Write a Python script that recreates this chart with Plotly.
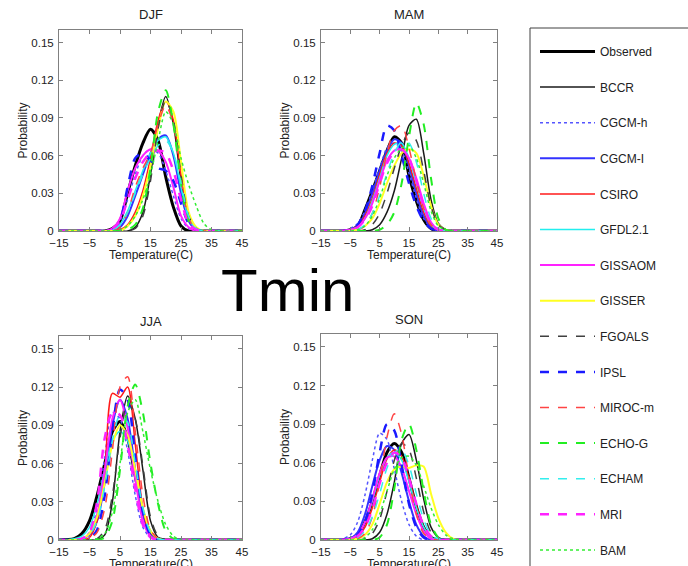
import plotly.graph_objects as go
from plotly.subplots import make_subplots

# temperature grid (C) the curves were read on
TEMP = [-15, -10, -7.5, -5, -2.5, 0, 2.5, 5, 7.5, 10, 12.5, 15, 17.5, 20, 22.5, 25, 27.5, 30, 32.5, 35, 45]

MODELS = ["Observed", "BCCR", "CGCM-h", "CGCM-I", "CSIRO", "GFDL2.1", "GISSAOM", "GISSER",
          "FGOALS", "IPSL", "MIROC-m", "ECHO-G", "ECHAM", "MRI", "BAM"]

SEASONS = ["DJF", "MAM", "JJA", "SON"]

# probability x 1000, one row per model (same order as MODELS)
DJF = [
    [0, 0, 0, 0, 0, 0, 2, 8, 30, 52, 70, 81, 72, 43, 19, 4, 0, 0, 0, 0, 0],
    [0, 0, 0, 0, 0, 0, 0, 0, 0, 3, 15, 45, 85, 107, 85, 40, 10, 1, 0, 0, 0],
    [0, 0, 0, 0, 0, 0, 2, 8, 25, 45, 60, 65, 62, 48, 28, 10, 2, 0, 0, 0, 0],
    [0, 0, 0, 0, 0, 0, 0, 3, 12, 28, 45, 62, 73, 76, 60, 30, 8, 1, 0, 0, 0],
    [0, 0, 0, 0, 0, 0, 0, 1, 5, 15, 32, 58, 88, 103, 88, 45, 12, 2, 0, 0, 0],
    [0, 0, 0, 0, 0, 0, 1, 5, 16, 32, 48, 62, 72, 75, 62, 35, 10, 2, 0, 0, 0],
    [0, 0, 0, 0, 0, 0, 2, 10, 32, 50, 60, 65, 64, 55, 35, 12, 3, 0, 0, 0, 0],
    [0, 0, 0, 0, 0, 0, 0, 0, 4, 12, 28, 52, 82, 103, 95, 55, 15, 3, 0, 0, 0],
    [0, 0, 0, 0, 0, 0, 0, 0, 0, 2, 12, 40, 82, 104, 88, 45, 12, 2, 0, 0, 0],
    [0, 0, 0, 0, 0, 0, 1, 8, 35, 58, 62, 56, 50, 48, 40, 22, 6, 1, 0, 0, 0],
    [0, 0, 0, 0, 0, 0, 0, 3, 15, 35, 50, 62, 85, 100, 85, 42, 10, 1, 0, 0, 0],
    [0, 0, 0, 0, 0, 0, 0, 0, 1, 5, 18, 50, 95, 112, 85, 38, 8, 1, 0, 0, 0],
    [0, 0, 0, 0, 0, 0, 1, 5, 15, 30, 45, 58, 68, 72, 62, 38, 12, 2, 0, 0, 0],
    [0, 0, 0, 0, 0, 0, 2, 8, 25, 42, 55, 62, 64, 62, 48, 25, 6, 1, 0, 0, 0],
    [0, 0, 0, 0, 0, 0, 0, 1, 4, 12, 25, 45, 72, 95, 85, 58, 37, 20, 6, 1, 0],
]

MAM = [
    [0, 0, 0, 1, 4, 17, 32, 48, 64, 75, 70, 44, 24, 9, 2, 0, 0, 0, 0, 0, 0],
    [0, 0, 0, 0, 0, 0, 1, 5, 15, 32, 58, 84, 89, 62, 25, 6, 1, 0, 0, 0, 0],
    [0, 0, 0, 2, 6, 16, 32, 50, 66, 70, 64, 46, 26, 10, 3, 0, 0, 0, 0, 0, 0],
    [0, 0, 0, 1, 4, 14, 30, 48, 64, 73, 70, 52, 30, 12, 3, 0, 0, 0, 0, 0, 0],
    [0, 0, 0, 1, 4, 12, 26, 45, 62, 70, 68, 54, 34, 15, 4, 1, 0, 0, 0, 0, 0],
    [0, 0, 0, 1, 3, 10, 24, 42, 60, 69, 70, 58, 38, 18, 5, 1, 0, 0, 0, 0, 0],
    [0, 0, 0, 1, 3, 10, 22, 40, 56, 64, 65, 58, 42, 22, 7, 1, 0, 0, 0, 0, 0],
    [0, 0, 0, 0, 1, 4, 10, 22, 38, 52, 62, 65, 62, 44, 20, 5, 1, 0, 0, 0, 0],
    [0, 0, 0, 0, 0, 1, 5, 14, 30, 50, 68, 78, 72, 48, 20, 5, 1, 0, 0, 0, 0],
    [0, 0, 0, 1, 5, 16, 36, 62, 84, 80, 60, 38, 20, 8, 2, 0, 0, 0, 0, 0, 0],
    [0, 0, 0, 0, 1, 4, 14, 35, 62, 80, 84, 66, 40, 18, 5, 1, 0, 0, 0, 0, 0],
    [0, 0, 0, 0, 0, 0, 0, 1, 5, 15, 38, 75, 102, 85, 42, 10, 1, 0, 0, 0, 0],
    [0, 0, 0, 0, 1, 5, 14, 28, 46, 62, 71, 70, 55, 30, 10, 2, 0, 0, 0, 0, 0],
    [0, 0, 0, 1, 3, 9, 20, 38, 54, 63, 65, 58, 40, 20, 6, 1, 0, 0, 0, 0, 0],
    [0, 0, 0, 0, 1, 4, 12, 26, 44, 58, 66, 68, 58, 38, 16, 4, 1, 0, 0, 0, 0],
]

JJA = [
    [0, 1, 5, 15, 35, 60, 85, 93, 80, 50, 22, 6, 1, 0, 0, 0, 0, 0, 0, 0, 0],
    [0, 0, 0, 0, 0, 4, 30, 85, 113, 95, 55, 15, 2, 0, 0, 0, 0, 0, 0, 0, 0],
    [0, 0, 1, 6, 25, 65, 100, 95, 70, 35, 10, 2, 0, 0, 0, 0, 0, 0, 0, 0, 0],
    [0, 0, 1, 4, 15, 45, 90, 110, 95, 55, 20, 4, 0, 0, 0, 0, 0, 0, 0, 0, 0],
    [0, 0, 0, 2, 15, 55, 115, 112, 120, 75, 25, 3, 0, 0, 0, 0, 0, 0, 0, 0, 0],
    [0, 1, 3, 10, 28, 55, 78, 85, 78, 52, 25, 7, 1, 0, 0, 0, 0, 0, 0, 0, 0],
    [0, 0, 1, 5, 20, 55, 95, 110, 88, 48, 15, 3, 0, 0, 0, 0, 0, 0, 0, 0, 0],
    [0, 0, 1, 5, 18, 45, 75, 90, 82, 55, 25, 7, 1, 0, 0, 0, 0, 0, 0, 0, 0],
    [0, 0, 0, 0, 1, 8, 35, 80, 108, 95, 58, 18, 3, 0, 0, 0, 0, 0, 0, 0, 0],
    [0, 0, 0, 1, 8, 35, 85, 118, 110, 65, 22, 4, 0, 0, 0, 0, 0, 0, 0, 0, 0],
    [0, 0, 0, 1, 6, 25, 70, 120, 128, 85, 35, 8, 1, 0, 0, 0, 0, 0, 0, 0, 0],
    [0, 0, 0, 0, 0, 2, 15, 55, 105, 122, 100, 60, 28, 7, 1, 0, 0, 0, 0, 0, 0],
    [0, 0, 1, 4, 15, 42, 78, 98, 92, 60, 25, 6, 1, 0, 0, 0, 0, 0, 0, 0, 0],
    [0, 0, 1, 6, 30, 80, 100, 98, 75, 40, 12, 2, 0, 0, 0, 0, 0, 0, 0, 0, 0],
    [0, 0, 0, 0, 1, 5, 22, 60, 100, 110, 85, 55, 30, 12, 3, 0, 0, 0, 0, 0, 0],
]

SON = [
    [0, 0, 0, 1, 4, 14, 30, 50, 68, 75, 68, 48, 26, 10, 2, 0, 0, 0, 0, 0, 0],
    [0, 0, 0, 0, 0, 0, 1, 6, 20, 45, 75, 82, 62, 32, 10, 2, 0, 0, 0, 0, 0],
    [0, 0, 1, 4, 14, 35, 62, 83, 78, 55, 30, 12, 3, 0, 0, 0, 0, 0, 0, 0, 0],
    [0, 0, 0, 1, 6, 20, 42, 62, 73, 70, 52, 30, 12, 3, 0, 0, 0, 0, 0, 0, 0],
    [0, 0, 0, 1, 3, 10, 25, 45, 63, 70, 65, 48, 27, 10, 2, 0, 0, 0, 0, 0, 0],
    [0, 0, 0, 1, 4, 14, 30, 50, 64, 68, 62, 45, 25, 10, 2, 0, 0, 0, 0, 0, 0],
    [0, 0, 0, 1, 4, 14, 32, 52, 64, 65, 56, 38, 20, 7, 1, 0, 0, 0, 0, 0, 0],
    [0, 0, 0, 0, 1, 4, 12, 28, 45, 55, 57, 56, 58, 57, 36, 17, 6, 1, 0, 0, 0],
    [0, 0, 0, 0, 0, 1, 5, 16, 38, 62, 75, 70, 48, 22, 6, 1, 0, 0, 0, 0, 0],
    [0, 0, 0, 1, 4, 14, 36, 68, 90, 85, 58, 28, 10, 2, 0, 0, 0, 0, 0, 0, 0],
    [0, 0, 0, 0, 1, 5, 18, 45, 80, 98, 82, 48, 20, 5, 1, 0, 0, 0, 0, 0, 0],
    [0, 0, 0, 0, 0, 0, 0, 2, 12, 40, 78, 90, 70, 38, 12, 2, 0, 0, 0, 0, 0],
    [0, 0, 0, 0, 2, 7, 18, 36, 56, 68, 70, 58, 36, 16, 4, 1, 0, 0, 0, 0, 0],
    [0, 0, 0, 1, 3, 10, 24, 44, 60, 68, 64, 48, 28, 11, 3, 0, 0, 0, 0, 0, 0],
    [0, 0, 0, 0, 0, 2, 8, 20, 38, 55, 64, 65, 58, 42, 25, 12, 4, 1, 0, 0, 0],
]

X_TICKS = [-15, -5, 5, 15, 25, 35, 45]
Y_TICKS = [0, 0.03, 0.06, 0.09, 0.12, 0.15]

# line style per model: colour, dash, width
styles = {
    "Observed": ("#000000", "solid", 3),
    "BCCR": ("#1a1a1a", "solid", 1.5),
    "CGCM-h": ("#5555ff", "dot", 1.5),
    "CGCM-I": ("#3333ff", "solid", 2),
    "CSIRO": ("#ff1a1a", "solid", 1.5),
    "GFDL2.1": ("#22eeee", "solid", 1.5),
    "GISSAOM": ("#ff22ff", "solid", 2),
    "GISSER": ("#ffff22", "solid", 2),
    "FGOALS": ("#404040", "dash", 1.5),
    "IPSL": ("#1a1aff", "dash", 2.5),
    "MIROC-m": ("#ff4444", "dash", 1.5),
    "ECHO-G": ("#22ee22", "dash", 2),
    "ECHAM": ("#33eeee", "dash", 1.5),
    "MRI": ("#ff22ff", "dash", 2.5),
    "BAM": ("#33ee33", "dot", 1.5),
}

W, H = 688, 566
FONT = "Liberation Sans, Arial, sans-serif"
TXT = "#222"

fig = make_subplots(rows=2, cols=2)

data = {"DJF": DJF, "MAM": MAM, "JJA": JJA, "SON": SON}
for k, season in enumerate(SEASONS):
    r, c = k // 2 + 1, k % 2 + 1
    for i, m in enumerate(MODELS):
        col, dash, wd = styles[m]
        fig.add_trace(go.Scatter(
            x=TEMP, y=[v / 1000 for v in data[season][i]], mode="lines",
            line=dict(color=col, dash=dash, width=wd, shape="spline", smoothing=0.8),
            name=m, legendgroup=m, showlegend=(k == 0),
        ), row=r, col=c)

fig.update_xaxes(range=[-15, 45], tickvals=X_TICKS, ticks="inside", ticklen=4,
                 showline=True, mirror="ticks", linecolor="#808080", tickcolor="#808080",
                 showgrid=False, zeroline=False, ticklabelstandoff=1, automargin=False,
                 tickfont=dict(size=11.5, color=TXT))
fig.update_yaxes(range=[0, 0.16], tickvals=Y_TICKS, ticks="inside", ticklen=4,
                 showline=True, mirror="ticks", linecolor="#808080", tickcolor="#808080",
                 showgrid=False, zeroline=False, ticklabelstandoff=2, automargin=False,
                 tickfont=dict(size=11.5, color=TXT),
                 title=dict(text="Probability", font=dict(size=12, color=TXT), standoff=1))

# panel boxes in pixels: left, right, top, bottom
boxes = [(59, 242, 30, 231), (321, 497, 30, 231), (59, 242, 336, 540), (321, 497, 334, 540)]
for k, (x0, x1, y0, y1) in enumerate(boxes):
    sfx = "" if k == 0 else str(k + 1)
    fig.layout["xaxis" + sfx].domain = [x0 / W, x1 / W]
    fig.layout["yaxis" + sfx].domain = [1 - y1 / H, 1 - y0 / H]
    xc = (x0 + x1) / 2 / W
    fig.add_annotation(text=SEASONS[k], x=xc, y=1 - (y0 - 15) / H,
                       xref="paper", yref="paper", xanchor="center", yanchor="middle",
                       showarrow=False, font=dict(size=13, color=TXT))
    # x title sits just under the tick labels (runs off the page in the lower row)
    fig.add_annotation(text="Temperature(C)", x=xc, y=1 - min(y1 + 24, 564) / H,
                       xref="paper", yref="paper", xanchor="center", yanchor="middle",
                       showarrow=False, font=dict(size=12, color=TXT))

fig.add_annotation(text="Tmin", x=287 / W, y=1 - 290 / H, xref="paper", yref="paper",
                   xanchor="center", yanchor="middle",
                   showarrow=False, font=dict(size=60, color="black"))

# legend frame runs off the right edge
fig.add_shape(type="rect", xref="paper", yref="paper", x0=530 / W, x1=1.05,
              y0=-0.1, y1=1 - 28 / H, line=dict(color="#404040", width=1))

fig.update_layout(
    width=W, height=H, margin=dict(l=0, r=0, t=0, b=0, autoexpand=False),
    paper_bgcolor="white", plot_bgcolor="white",
    font=dict(family=FONT, color=TXT),
    legend=dict(x=535 / W, y=1 - 37 / H, xanchor="left", yanchor="top",
                font=dict(size=12, color=TXT), tracegroupgap=16.6, itemwidth=55,
                bgcolor="rgba(0,0,0,0)", borderwidth=0),
)

# drop the browser's default 8px body margin so the figure sits at the page corner
fig.write_html("out.html", config={"displayModeBar": False},
               post_script="document.body.style.margin='0px';")
